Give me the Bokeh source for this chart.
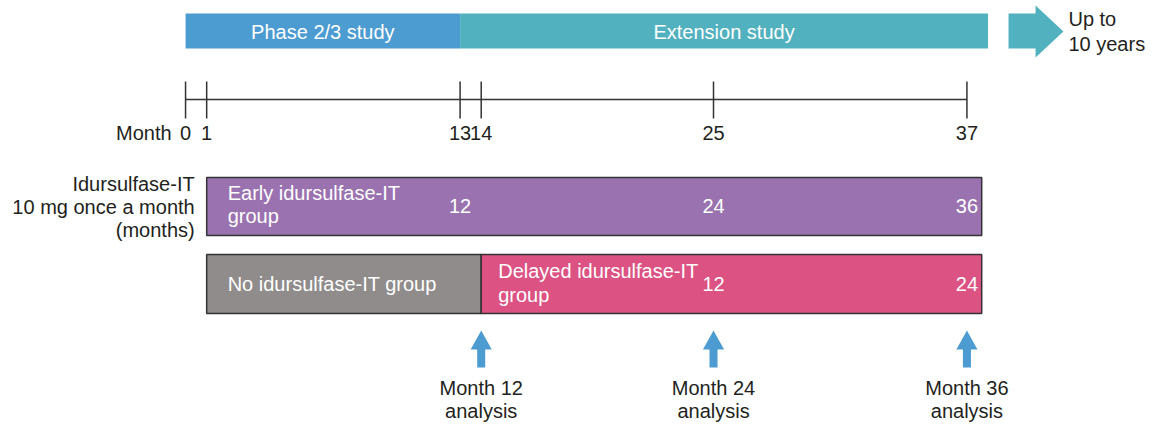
from bokeh.plotting import figure
from bokeh.models import Range1d
from bokeh.core.properties import value
from bokeh.embed import file_html
from bokeh.resources import INLINE

# ---------------- data ----------------
phase_names = ["Phase 2/3 study", "Extension study"]
phase_start = [0, 13]
phase_end = [13, 38]
phase_colors = ["#4C9BD1", "#52B1BF"]

tick_months = [0, 1, 13, 14, 25, 37]
tick_labels = ["0", "1", "13", "14", "25", "37"]

group_names = ["Early idursulfase-IT", "No idursulfase-IT group", "Delayed idursulfase-IT"]
group_start = [1, 1, 14]
group_end = [37.7, 14, 37.7]
group_colors = ["#9A72AF", "#8F8C8B", "#DB5283"]

early_dose_months = [13, 25, 37]
early_dose_labels = ["12", "24", "36"]
delayed_dose_months = [25, 37]
delayed_dose_labels = ["12", "24"]

analysis_months = [14, 25, 37]
analysis_labels = ["Month 12", "Month 24", "Month 36"]

FONT = value("Liberation Sans")
FS = "20px"
DARK = "#231F20"

W, H = 1157, 426
PPM = 21.118          # pixels per month
X0 = 185.06           # pixel of month 0

# ---------------- figure ----------------
p = figure(width=W, height=H,
           x_range=Range1d(-X0 / PPM, (W - X0) / PPM), y_range=Range1d(H, 0),
           x_axis_location=None, y_axis_location=None,
           output_backend="svg", toolbar_location=None, min_border=0)
p.grid.visible = False
p.outline_line_color = None
p.background_fill_color = "white"
p.border_fill_color = "white"

# top study phase bars
p.quad(left=phase_start, right=phase_end, top=13, bottom=48,
       fill_color=phase_colors, line_color=None)
p.text(x=[(a + b) / 2 for a, b in zip(phase_start, phase_end)], y=[31, 31],
       text=phase_names, text_color="white", text_font=FONT, text_font_size=FS,
       text_align="center", text_baseline="middle")

# "up to 10 years" arrow
ax0 = phase_end[-1] + 0.97
ax1 = ax0 + 1.28
ax2 = ax1 + 1.32
p.patch(x=[ax0, ax1, ax1, ax2, ax1, ax1, ax0],
        y=[13, 13, 5, 31, 57, 48, 48], fill_color=phase_colors[1], line_color=None)
p.text(x=[ax2, ax2], y=[18, 43], text=["Up to", "10 years"], x_offset=5,
       text_color=DARK, text_font=FONT, text_font_size=FS,
       text_align="left", text_baseline="middle")

# timeline
p.segment(x0=[tick_months[0]], y0=[99], x1=[tick_months[-1]], y1=[99],
          line_color="#333333", line_width=1.5)
p.segment(x0=tick_months, y0=81, x1=tick_months, y1=118,
          line_color="#333333", line_width=1.5)
p.text(x=tick_months, y=132, text=tick_labels, text_color=DARK, text_font=FONT,
       text_font_size=FS, text_align="center", text_baseline="middle")
p.text(x=[tick_months[0]], y=[132], text=["Month"], x_offset=-14, text_color=DARK,
       text_font=FONT, text_font_size=FS, text_align="right", text_baseline="middle")

# left label
p.text(x=[1, 1, 1], y=[183, 206, 229],
       text=["Idursulfase-IT", "10 mg once a month", "(months)"], x_offset=-12,
       text_color=DARK, text_font=FONT, text_font_size=FS,
       text_align="right", text_baseline="middle")

# group bars
p.quad(left=group_start[:1], right=group_end[:1], top=177, bottom=235,
       fill_color=group_colors[0], line_color="#333333", line_width=1.5)
p.quad(left=group_start[1:], right=group_end[1:], top=254, bottom=313,
       fill_color=group_colors[1:], line_color="#333333", line_width=1.5)

p.text(x=[group_start[0], group_start[0]], y=[192, 215],
       text=[group_names[0], "group"], x_offset=21, text_color="white",
       text_font=FONT, text_font_size=FS, text_align="left", text_baseline="middle")
p.text(x=[group_start[1]], y=[283], text=[group_names[1]], x_offset=21,
       text_color="white", text_font=FONT, text_font_size=FS,
       text_align="left", text_baseline="middle")
p.text(x=[group_start[2], group_start[2]], y=[270, 294],
       text=[group_names[2], "group"], x_offset=17, text_color="white",
       text_font=FONT, text_font_size=FS, text_align="left", text_baseline="middle")

p.text(x=early_dose_months, y=205, text=early_dose_labels, text_color="white",
       text_font=FONT, text_font_size=FS, text_align="center", text_baseline="middle")
p.text(x=delayed_dose_months, y=283, text=delayed_dose_labels, text_color="white",
       text_font=FONT, text_font_size=FS, text_align="center", text_baseline="middle")

# analysis arrows
hw = 0.5    # half head width (months)
sw = 0.19   # half shaft width (months)
xs, ys = [], []
for m in analysis_months:
    xs.append([m - sw, m - sw, m - hw, m, m + hw, m + sw, m + sw])
    ys.append([367, 349, 349, 330, 349, 349, 367])
p.patches(xs=xs, ys=ys, fill_color="#4C9BD1", line_color=None)
p.text(x=analysis_months, y=387, text=analysis_labels, text_color=DARK,
       text_font=FONT, text_font_size=FS, text_align="center", text_baseline="middle")
p.text(x=analysis_months, y=410, text=["analysis"] * len(analysis_months),
       text_color=DARK, text_font=FONT, text_font_size=FS,
       text_align="center", text_baseline="middle")

open("out.html", "w").write(file_html(p, INLINE))
